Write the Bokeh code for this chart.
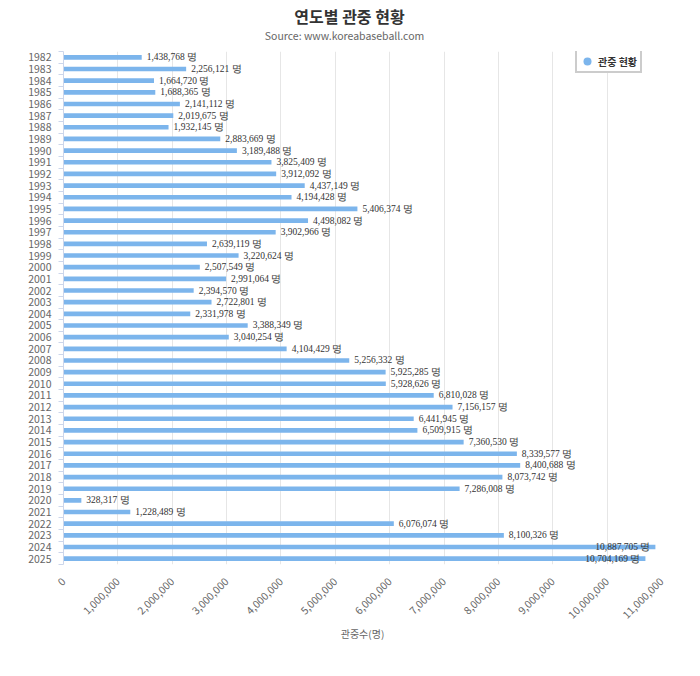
import math
from bokeh.plotting import figure
from bokeh.models import (ColumnDataSource, Range1d, FixedTicker, NumeralTickFormatter,
                          Label, Legend, LegendItem)
from bokeh.embed import file_html
from bokeh.resources import INLINE

years = [1982, 1983, 1984, 1985, 1986, 1987, 1988, 1989, 1990, 1991, 1992, 1993, 1994,
         1995, 1996, 1997, 1998, 1999, 2000, 2001, 2002, 2003, 2004, 2005, 2006, 2007,
         2008, 2009, 2010, 2011, 2012, 2013, 2014, 2015, 2016, 2017, 2018, 2019, 2020,
         2021, 2022, 2023, 2024, 2025]
attendance = [1438768, 2256121, 1664720, 1688365, 2141112, 2019675, 1932145, 2883669,
              3189488, 3825409, 3912092, 4437149, 4194428, 5406374, 4498082, 3902966,
              2639119, 3220624, 2507549, 2991064, 2394570, 2722801, 2331978, 3388349,
              3040254, 4104429, 5256332, 5925285, 5928626, 6810028, 7156157, 6441945,
              6509915, 7360530, 8339577, 8400688, 8073742, 7286008, 328317, 1228489,
              6076074, 8100326, 10887705, 10704169]
x_ticks = list(range(0, 11000001, 1000000))
title_text = "연도별 관중 현황"
subtitle_text = "Source: www.koreabaseball.com"
series_name = "관중 현황"
x_title = "관중수(명)"

FONT = "Noto Sans CJK KR"
BAR = "#7cb5ec"

idx = list(range(len(years)))
labels = [f"{v:,} 명" for v in attendance]
inside = [v > 10000000 for v in attendance]

src_all = ColumnDataSource(dict(y=idx, v=attendance))
src_out = ColumnDataSource(dict(y=[i for i in idx if not inside[i]],
                                v=[attendance[i] for i in idx if not inside[i]],
                                t=[labels[i] for i in idx if not inside[i]]))
src_in = ColumnDataSource(dict(y=[i for i in idx if inside[i]],
                               v=[attendance[i] for i in idx if inside[i]],
                               t=[labels[i] for i in idx if inside[i]]))

p = figure(width=684, height=660, output_backend="svg", toolbar_location=None,
           x_range=Range1d(0, 11000000), y_range=Range1d(len(years) - 0.5, -0.5),
           min_border_left=63, min_border_right=23, min_border_top=51, min_border_bottom=96)
p.outline_line_color = None
p.background_fill_color = "white"

bars = p.hbar(y="y", right="v", left=0, height=0.4, source=src_all,
              fill_color=BAR, line_color=None)
p.text(x="v", y="y", text="t", source=src_out, x_offset=5, text_align="left",
       text_baseline="middle", text_font=FONT, text_font_size="9.5px", text_color="#333333")
p.text(x="v", y="y", text="t", source=src_in, x_offset=-5, text_align="right",
       text_baseline="middle", text_font=FONT, text_font_size="9.5px", text_color="#333333")

# legend marker (renderer hidden on the plot, only its legend glyph is shown)
dummy = p.scatter(x="v", y="y", source=src_all, marker="circle", size=11,
                  fill_color=BAR, line_color=None, visible=False)
legend = Legend(items=[LegendItem(label=series_name, renderers=[dummy])], margin=0)
legend.label_text_font = FONT
legend.label_text_font_size = "10px"
legend.label_text_font_style = "bold"
legend.label_text_color = "#333333"
legend.glyph_width = 20
legend.glyph_height = 20
legend.padding = 0
legend.spacing = 0
legend.label_standoff = 1
legend.label_height = 12
legend.label_width = 42
legend.border_line_color = "#999999"
legend.border_line_width = 2
legend.background_fill_alpha = 1
legend.inactive_fill_alpha = 0
p.add_layout(legend, "center")
legend.location = (512, 491)

# grids
p.ygrid.grid_line_color = None
p.xgrid.grid_line_color = "#e6e6e6"
p.xgrid.ticker = FixedTicker(ticks=x_ticks)

# x axis
xa = p.xaxis[0]
xa.ticker = FixedTicker(ticks=x_ticks)
xa.formatter = NumeralTickFormatter(format="0,0")
xa.axis_line_color = None
xa.major_tick_line_color = None
xa.minor_tick_line_color = None
xa.major_label_orientation = math.pi / 4
xa.major_label_text_font = FONT
xa.major_label_text_font_size = "10.5px"
xa.major_label_text_color = "#666666"
xa.major_label_standoff = 9
xa.axis_label = x_title
xa.axis_label_text_font = FONT
xa.axis_label_text_font_size = "10px"
xa.axis_label_text_font_style = "normal"
xa.axis_label_text_color = "#666666"
xa.axis_label_standoff = 1

# y axis
ya = p.yaxis[0]
ya.ticker = FixedTicker(ticks=idx, minor_ticks=[i - 0.5 for i in range(len(years) + 1)])
ya.major_label_overrides = {i: str(y) for i, y in zip(idx, years)}
ya.axis_line_color = "#ccd6eb"
ya.major_tick_line_color = None
ya.minor_tick_line_color = "#ccd6eb"
ya.minor_tick_out = 5
ya.minor_tick_in = 0
ya.major_tick_out = 0
ya.major_label_standoff = 7
ya.major_label_text_font = FONT
ya.major_label_text_font_size = "10.5px"
ya.major_label_text_color = "#666666"

# title and subtitle in the top panels
p.add_layout(Label(x=286, y=36, x_units="screen", y_units="screen",
                   text=title_text, text_align="center", text_baseline="middle",
                   text_font=FONT, text_font_size="16px", text_font_style="bold",
                   text_color="#333333"), "above")
p.add_layout(Label(x=281, y=-8, x_units="screen", y_units="screen",
                   text=subtitle_text, text_align="center", text_baseline="middle",
                   text_font=FONT, text_font_size="10.5px", text_color="#666666"), "above")

open("out.html", "w").write(file_html(p, INLINE))
